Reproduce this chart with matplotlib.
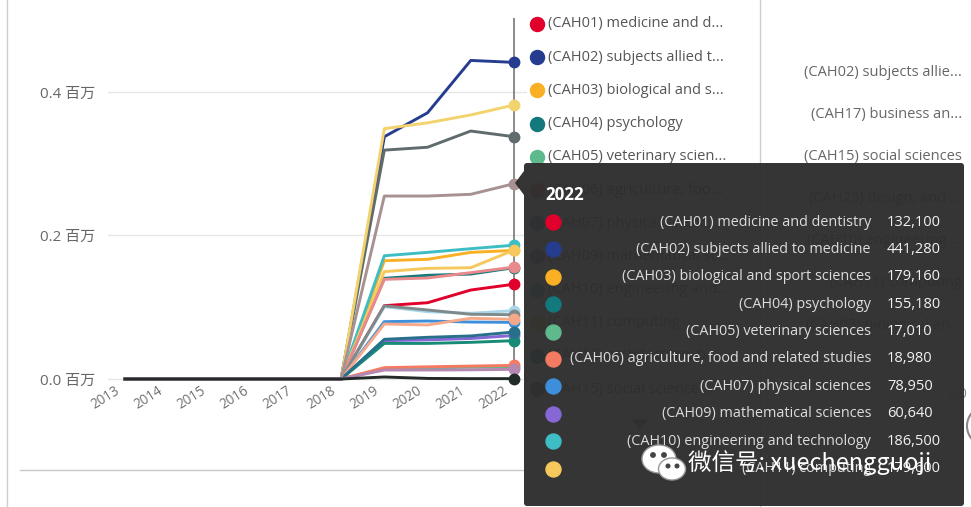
import matplotlib
matplotlib.use('Agg')
import matplotlib.pyplot as plt
import matplotlib.transforms as mtransforms
from matplotlib.patches import FancyBboxPatch, Polygon, Ellipse, Circle
from matplotlib.ticker import FuncFormatter

W, H, DPI = 971, 507, 100
FONT = ['Open Sans', 'Noto Sans CJK SC', 'DejaVu Sans']
plt.rcParams['font.family'] = FONT

# ---------------- data ----------------
years = [2013, 2014, 2015, 2016, 2017, 2018, 2019, 2020, 2021, 2022]

cah01 = [0, 0, 0, 0, 0, 0, 102200, 106300, 124000, 132100]
cah02 = [0, 0, 0, 0, 0, 0, 337700, 371000, 444000, 441280]
cah03 = [0, 0, 0, 0, 0, 0, 164900, 166800, 176500, 179160]
cah04 = [0, 0, 0, 0, 0, 0, 140300, 144500, 146300, 155180]
cah05 = [0, 0, 0, 0, 0, 0, 14500, 15500, 16500, 17010]
cah06 = [0, 0, 0, 0, 0, 0, 15800, 17000, 18000, 18980]
cah07 = [0, 0, 0, 0, 0, 0, 79900, 80800, 79400, 78950]
cah09 = [0, 0, 0, 0, 0, 0, 53400, 54500, 56500, 60640]
cah10 = [0, 0, 0, 0, 0, 0, 171800, 176500, 181600, 186500]
cah11 = [0, 0, 0, 0, 0, 0, 149600, 154200, 155100, 179600]
cah13 = [0, 0, 0, 0, 0, 0, 49600, 49600, 51100, 53400]
cah15 = [0, 0, 0, 0, 0, 0, 319000, 323000, 345600, 337700]
cah16 = [0, 0, 0, 0, 0, 0, 138900, 140800, 148200, 156000]
cah17 = [0, 0, 0, 0, 0, 0, 348900, 357000, 368000, 381900]
cah19 = [0, 0, 0, 0, 0, 0, 100800, 93800, 91600, 95200]
cah20 = [0, 0, 0, 0, 0, 0, 102000, 96200, 90200, 89600]
cah22 = [0, 0, 0, 0, 0, 0, 76700, 75300, 84600, 83200]
cah23 = [0, 0, 0, 0, 0, 0, 2800, 800, 500, 500]
cah24 = [0, 0, 0, 0, 0, 0, 55300, 58100, 60000, 65500]
cah25 = [0, 0, 0, 0, 0, 0, 255000, 255000, 257400, 272200]
cah26 = [0, 0, 0, 0, 0, 0, 12500, 12500, 12800, 13500]

series_names = ['(CAH01) medicine and dentistry', '(CAH02) subjects allied to medicine',
                '(CAH03) biological and sport sciences', '(CAH04) psychology',
                '(CAH05) veterinary sciences', '(CAH06) agriculture, food and related studies',
                '(CAH07) physical sciences', '(CAH09) mathematical sciences',
                '(CAH10) engineering and technology', '(CAH11) computing',
                '(CAH13) architecture, building and planning', '(CAH15) social sciences',
                '(CAH16) law', '(CAH17) business and management',
                '(CAH19) language and area studies', '(CAH20) historical, philosophical and religious studies',
                '(CAH22) education and teaching', '(CAH23) combined and general studies',
                '(CAH24) media, journalism and communications',
                '(CAH25) design, and creative and performing arts',
                '(CAH26) geography, earth and environmental studies']
series_values = [cah01, cah02, cah03, cah04, cah05, cah06, cah07, cah09, cah10, cah11,
                 cah13, cah15, cah16, cah17, cah19, cah20, cah22, cah23, cah24, cah25, cah26]
series_colors = ['#E0002B', '#253C8F', '#F9B024', '#13797C', '#5EB98D', '#F47A62',
                 '#3D8FDB', '#8667D5', '#3EBDC5', '#F7C85B', '#178A78', '#5F6B6D',
                 '#E8898C', '#F2D36E', '#A9D6E8', '#7F898A', '#F5A98A', '#222A2A',
                 '#286F8C', '#A79191', '#B488B0']

yticks = [0, 200000, 400000]

legend_labels = ['(CAH01) medicine and d...', '(CAH02) subjects allied t...',
                 '(CAH03) biological and s...', '(CAH04) psychology',
                 '(CAH05) veterinary scien...', '(CAH06) agriculture, foo...',
                 '(CAH07) physical scienc...', '(CAH09) mathematical sc...',
                 '(CAH10) engineering and...', '(CAH11) computing',
                 '(CAH13) architecture, b...', '(CAH15) social science...']
legend_colors = series_colors[:12]

side_labels = ['(CAH02) subjects allie...', '(CAH17) business an...', '(CAH15) social sciences',
               '(CAH25) design, and ...', '(CAH10) engineering ...', '(CAH11) computing',
               '(CAH03) biological an...']

tip_title = '2022'
tip_labels = series_names[:10]
tip_values = ['132,100', '441,280', '179,160', '155,180', '17,010', '18,980',
              '78,950', '60,640', '186,500', '179,600']
tip_colors = series_colors[:10]

# ---------------- figure ----------------
fig = plt.figure(figsize=(W / DPI, H / DPI), dpi=DPI)
fig.patch.set_facecolor('white')

def px(v):  # pixels -> points
    return v * 72 / DPI

ax = fig.add_axes([108 / W, 1 - 385 / H, 419 / W, 367 / H])
ax.set_facecolor('none')
ppy = (514 - 125) / 9.0
ax.set_xlim(2013 - 17 / ppy, 2022 + 13 / ppy)
vpp = 200000 / 143.5
ax.set_ylim(-6 * vpp, (379 - 18) * vpp)
for s in ax.spines.values():
    s.set_visible(False)

ax.set_yticks(yticks)
ax.yaxis.set_major_formatter(FuncFormatter(lambda v, p: f'{v / 1e6:.1f} 百万'))
ax.tick_params(axis='y', length=0, pad=px(13), labelsize=px(15), labelcolor='#666666')
ax.grid(axis='y', color='#e6e6e6', linewidth=1)
ax.set_axisbelow(True)

ax.set_xticks(years)
ax.set_xticklabels([str(y) for y in years], rotation=32, ha='right', va='center',
                   rotation_mode='anchor')
ax.tick_params(axis='x', length=0, pad=px(5), labelsize=px(13.5), labelcolor='#707070')
for lab in ax.get_xticklabels():
    lab.set_transform(lab.get_transform() +
                      mtransforms.ScaledTranslation(-7 / DPI, 0, fig.dpi_scale_trans))

ax.axvline(years[-1], color='#777777', linewidth=1.2, zorder=1)

for i in range(len(series_values)):
    z = 30 if series_names[i].startswith('(CAH23)') else 3 + i * 0.01
    ax.plot(years, series_values[i], color=series_colors[i], linewidth=2.1,
            marker='o', markevery=[len(years) - 1], markersize=7.5,
            solid_joinstyle='round', zorder=z, clip_on=False)

# ---------------- overlay (pixel space) ----------------
ov = fig.add_axes([0, 0, 1, 1], zorder=10)
ov.set_xlim(0, W)
ov.set_ylim(H, 0)
ov.patch.set_alpha(0)
ov.axis('off')

# frame lines
ov.plot([7, 7], [0, H], color='#cccccc', linewidth=1)
ov.plot([20, 524], [470, 470], color='#c8c8c8', linewidth=1)
ov.plot([760, 760], [0, H], color='#cccccc', linewidth=1)

# legend
for i, (lab, col) in enumerate(zip(legend_labels, legend_colors)):
    yy = 24 + 33.2 * i
    ov.scatter([537], [yy], s=px(14) ** 2, color=col, zorder=2)
    ov.text(548, yy, lab, fontsize=px(14.6), color='#555555', va='center', ha='left')
ov.add_patch(Polygon([[633, 420], [647, 420], [640, 428]], closed=True, color='#666666'))

# side labels of neighbouring visual
for i, lab in enumerate(side_labels):
    ov.text(962, 72 + 42.2 * i, lab, fontsize=px(14.6), color='#666666', va='center', ha='right')
ov.text(947, 395, '0.0', fontsize=px(14), color='#888888', va='center', ha='left')
ov.add_patch(Circle((987, 426), 20, facecolor='none', edgecolor='#888888', linewidth=1.5))

# tooltip
ov.add_patch(FancyBboxPatch((524, 163), 440, 343, boxstyle='round,pad=0,rounding_size=3',
                            facecolor='#2d2d2d', edgecolor='none', alpha=0.96, zorder=20))
ov.add_patch(Polygon([[524, 171], [515, 183], [524, 195]], closed=True,
                     facecolor='#2d2d2d', edgecolor='none', alpha=0.96, zorder=20))
ov.text(545, 195, tip_title, fontsize=px(17), fontweight='bold', color='white',
        va='center', ha='left', zorder=21)
for i, (lab, val, col) in enumerate(zip(tip_labels, tip_values, tip_colors)):
    yy = 222 + 27.4 * i
    ov.scatter([553], [yy], s=px(15) ** 2, color=col, zorder=21)
    ov.text(871, yy, lab, fontsize=px(14.4), color='#dddddd', va='center', ha='right', zorder=21)
    ov.text(887, yy, val, fontsize=px(14.6), color='#f2f2f2', va='center', ha='left', zorder=21)

# watermark
ov.add_patch(Ellipse((659, 459), 34, 28, facecolor='white', edgecolor='#999999', linewidth=1, zorder=22))
ov.add_patch(Ellipse((672, 469), 27, 22, facecolor='white', edgecolor='#999999', linewidth=1, zorder=23))
for ex, ey, r in [(653, 455, 2.2), (664, 455, 2.2), (668, 466, 1.8), (677, 466, 1.8)]:
    ov.add_patch(Circle((ex, ey), r, color='#444444', zorder=24))
ov.text(688, 463, '微信号: xuechengguoji', fontsize=px(23.5), color='white',
        family=['Noto Sans CJK SC', 'DejaVu Sans'], va='center', ha='left', zorder=25)

fig.savefig('out.png', dpi=DPI)
